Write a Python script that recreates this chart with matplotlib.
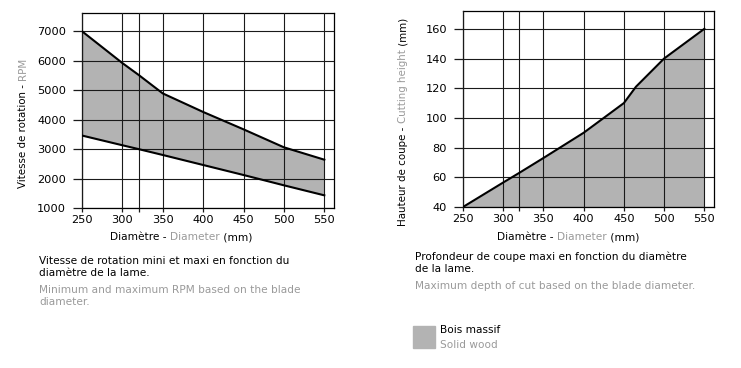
import matplotlib
matplotlib.use("Agg")
import matplotlib.pyplot as plt

# ---- data ----
diam = [250, 300, 320, 350, 400, 450, 500, 550]
rpm_max = [7000, 5920, 5520, 4890, 4260, 3670, 3060, 2640]
rpm_min = [3460, 3130, 3000, 2800, 2460, 2120, 1770, 1430]

diam_cut = [250, 300, 320, 350, 400, 450, 465, 500, 550]
cut_height = [40, 56.5, 63, 73, 90, 110, 121, 140, 160]

x_ticks = [250, 300, 350, 400, 450, 500, 550]
x_grid = [250, 300, 320, 350, 400, 450, 500, 550]
rpm_ticks = [1000, 2000, 3000, 4000, 5000, 6000, 7000]
cut_ticks = [40, 60, 80, 100, 120, 140, 160]

BLACK = "#000000"
GRAY = "#9a9a9a"
FILL = "#b3b3b3"
FONT = "DejaVu Sans"

plt.rcParams['font.family'] = [FONT]

W, H = 741, 368
fig = plt.figure(figsize=(W / 100, H / 100), dpi=100)


def px_axes(l, t, r, b):
    return fig.add_axes([l / W, 1 - b / H, (r - l) / W, (b - t) / H])


def style(ax, xlim, ylim, yticks):
    ax.set_xlim(*xlim)
    ax.set_ylim(*ylim)
    ax.set_xticks(x_grid)
    ax.set_xticklabels([str(v) if v in x_ticks else "" for v in x_grid])
    ax.set_yticks(yticks)
    ax.tick_params(axis='both', width=0.9, color="#1a1a1a",
                   labelsize=8.2, labelcolor=BLACK)
    ax.tick_params(axis='y', length=6.5, pad=5)
    ax.tick_params(axis='x', length=3, pad=2)
    ax.grid(True, color="#1a1a1a", linewidth=0.8)
    ax.set_axisbelow(False)
    for s in ax.spines.values():
        s.set_color(BLACK)
        s.set_linewidth(0.9)


# left chart
ax1 = px_axes(82, 13, 334, 208)
ax1.fill_between(diam, rpm_min, rpm_max, color=FILL, linewidth=0, zorder=1)
ax1.plot(diam, rpm_max, color=BLACK, lw=1.5, zorder=3)
ax1.plot(diam, rpm_min, color=BLACK, lw=1.5, zorder=3)
style(ax1, (250, 562), (1000, 7620), rpm_ticks)

# right chart
ax2 = px_axes(463, 11, 714, 207)
ax2.fill_between(diam_cut, 40, cut_height, color=FILL, linewidth=0, zorder=1)
ax2.plot(diam_cut, cut_height, color=BLACK, lw=1.5, zorder=3)
style(ax2, (250, 562), (40, 172), cut_ticks)

fig.canvas.draw()
renderer = fig.canvas.get_renderer()


def multi_text(pieces, x_px, y_px, size, rotation=0, center=True):
    """pieces: list of (text, color). x_px,y_px: center in px from top-left."""
    texts = []
    for s, c in pieces:
        t = fig.text(0, 0, s, color=c, fontsize=size, rotation=rotation,
                     rotation_mode='anchor', ha='left', va='center')
        texts.append(t)
    lens = []
    for t in texts:
        e = t.get_window_extent(renderer)
        lens.append(e.height if rotation == 90 else e.width)
    total = sum(lens)
    if rotation == 90:
        pos = (H - y_px) - (total / 2 if center else 0)
        for t, L in zip(texts, lens):
            t.set_position((x_px / W, pos / H))
            pos += L
    else:
        pos = x_px - (total / 2 if center else 0)
        for t, L in zip(texts, lens):
            t.set_position((pos / W, (H - y_px) / H))
            pos += L


LAB = 7.4
multi_text([("Vitesse de rotation - ", BLACK), ("RPM", GRAY)], 23, 123, LAB, rotation=90)
multi_text([("Diamètre - ", BLACK), ("Diameter", GRAY), (" (mm)", BLACK)], 181, 237, 7.6)
multi_text([("Hauteur de coupe - ", BLACK), ("Cutting height", GRAY), (" (mm)", BLACK)], 403, 122, LAB, rotation=90)
multi_text([("Diamètre - ", BLACK), ("Diameter", GRAY), (" (mm)", BLACK)], 568, 237, 7.6)

CAP = 7.6
fig.text(39 / W, 1 - 256 / H, "Vitesse de rotation mini et maxi en fonction du\ndiamètre de la lame.",
         fontsize=CAP, color=BLACK, ha='left', va='top', linespacing=1.2)
fig.text(39 / W, 1 - 285 / H, "Minimum and maximum RPM based on the blade\ndiameter.",
         fontsize=CAP, color=GRAY, ha='left', va='top', linespacing=1.2)
fig.text(415 / W, 1 - 252 / H, "Profondeur de coupe maxi en fonction du diamètre\nde la lame.",
         fontsize=CAP, color=BLACK, ha='left', va='top', linespacing=1.2)
fig.text(415 / W, 1 - 281 / H, "Maximum depth of cut based on the blade diameter.",
         fontsize=CAP, color=GRAY, ha='left', va='top')

# legend
fig.patches.append(matplotlib.patches.Rectangle((413 / W, 1 - 348 / H), 22 / W, 22 / H,
                                                transform=fig.transFigure, color=FILL))
fig.text(440 / W, 1 - 330 / H, "Bois massif", fontsize=CAP, color=BLACK, ha='left', va='center')
fig.text(440 / W, 1 - 345 / H, "Solid wood", fontsize=CAP, color=GRAY, ha='left', va='center')

fig.savefig("out.png", dpi=100, facecolor="white")
